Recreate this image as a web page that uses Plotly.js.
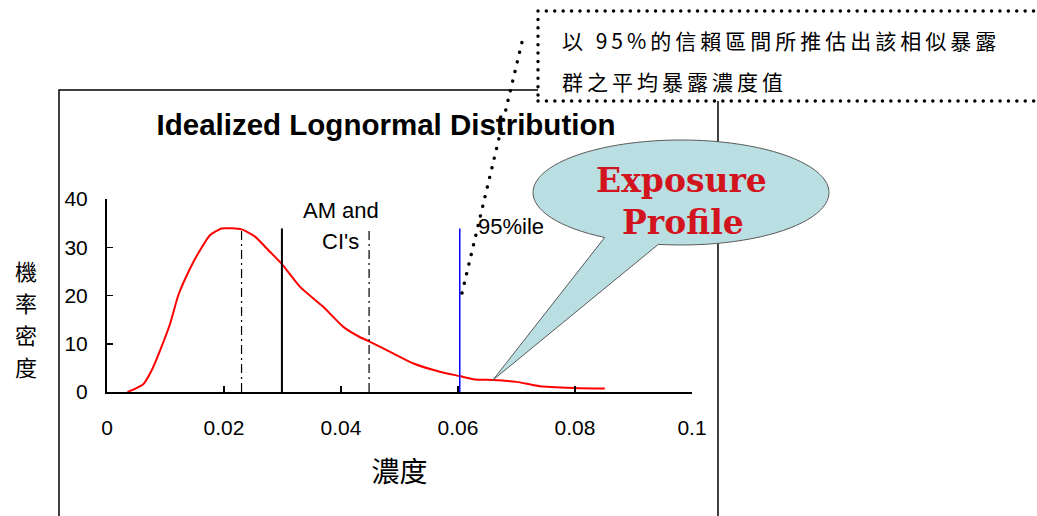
<!DOCTYPE html>
<html><head><meta charset="utf-8">
<script src="https://cdn.plot.ly/plotly-3.0.1.min.js"></script>
<style>
html,body{margin:0;padding:0;background:#fff}
#chart{width:1037px;height:516px}
.shapelayer path{stroke-linecap:round !important}
</style></head><body><div id="chart"></div>
<script>
// ---- data ----
const concentration = [0.0035, 0.0045, 0.0062, 0.0076, 0.0091, 0.0108, 0.0122, 0.0142, 0.0159, 0.0176, 0.0196, 0.0230, 0.0253, 0.0279, 0.0299, 0.0330, 0.0370, 0.0404, 0.0432, 0.0448, 0.0489, 0.0524, 0.0569, 0.0603, 0.0629, 0.0660, 0.0700, 0.0740, 0.0797, 0.0851];
const density       = [0.0,    0.5,    1.6,    4.4,    8.7,    14.2,   20.1,   25.6,   29.4,   32.5,   33.9,   33.7,   32.2,   29.0,   26.5,   21.8,   17.6,   13.5,   11.4,   10.5,   8.0,    5.9,    4.2,    3.3,    2.6,    2.5,    2.1,    1.2,    0.85,   0.7];
const refNames = ['CI lower', 'AM', 'CI upper', '95%ile'];
const refX     = [0.0230, 0.0299, 0.0448, 0.0603];
const refTop   = [33.5, 33.9, 33.5, 33.9];
const xTickVals = [0, 0.02, 0.04, 0.06, 0.08, 0.1];
const xTickText = ['0', '0.02', '0.04', '0.06', '0.08', '0.1'];
const yTickVals = [0, 10, 20, 30, 40];
const yTickText = ['0', '10', '20', '30', '40'];
const chartTitle = 'Idealized Lognormal Distribution';
const xTitle = '濃度';
const yTitle = '機率密度';
const amLabel = ['AM and', "CI's"];
const pctLabel = '95%ile';
const noteLines = ['以 95%的信賴區間所推估出該相似暴露', '群之平均暴露濃度值'];
const bubbleLines = ['Exposure', 'Profile'];

// ---- geometry helpers (pixel -> paper) ----
const W = 1037, H = 516, ML = 107, MR = 345, MT = 199, MB = 124;
const PW = W - ML - MR, PH = H - MT - MB;
const fx = px => (px - ML) / PW;
const fy = py => (H - MB - py) / PH;

// speech bubble outline
function bubblePath() {
  const cx = 681, cy = 192.5, rx = 148, ry = 52.5;
  const tA = Math.atan2((237 - cy) / ry, (605 - cx) / rx);
  let tB = Math.atan2((245 - cy) / ry, (658 - cx) / rx);
  if (tB < tA) tB += 2 * Math.PI;
  const pts = [];
  const n = 90;
  for (let i = 0; i <= n; i++) {
    const t = tA + (tB - tA) * i / n;
    pts.push([cx + rx * Math.cos(t), cy + ry * Math.sin(t)]);
  }
  pts.push([493, 380]);
  return 'M ' + pts.map(p => fx(p[0]).toFixed(5) + ',' + fy(p[1]).toFixed(5)).join(' L ') + ' Z';
}

const traces = [{
  x: concentration, y: density, type: 'scatter', mode: 'lines',
  line: {color: '#ff0000', width: 2, shape: 'spline', smoothing: 0.5}, hoverinfo: 'skip', name: 'density'
}];
const refStyles = [
  {color: '#000', width: 1.2, dash: '9px,4px,2px,4px'},
  {color: '#000', width: 2, dash: 'solid'},
  {color: '#000', width: 1.2, dash: '9px,4px,2px,4px'},
  {color: '#0000ff', width: 1.5, dash: 'solid'}
];
refX.forEach((v, i) => traces.push({
  x: [v, v], y: [0, refTop[i]], type: 'scatter', mode: 'lines',
  line: refStyles[i], hoverinfo: 'skip', name: refNames[i]
}));

const dotted = {color: '#000', width: 3.4};
const shapes = [
  {type: 'rect', xref: 'paper', yref: 'paper', x0: fx(59), x1: fx(718), y0: fy(640), y1: fy(90),
   line: {color: '#000', width: 1.5}, fillcolor: 'rgba(0,0,0,0)'},
  {type: 'rect', xref: 'paper', yref: 'paper', x0: fx(538), x1: fx(1060), y0: fy(101), y1: fy(11),
   line: Object.assign({dash: '0.1px,8.3px'}, dotted), fillcolor: '#ffffff'},
  {type: 'line', xref: 'paper', yref: 'paper', x0: fx(462), y0: fy(293), x1: fx(523), y1: fy(38),
   line: Object.assign({dash: '0.1px,9.8px'}, dotted)},
  {type: 'path', xref: 'paper', yref: 'paper', path: bubblePath(),
   fillcolor: 'rgb(185,223,227)', line: {color: 'rgb(90,90,90)', width: 1}}
];

const cjk = 'Noto Sans CJK TC, Noto Sans CJK SC, sans-serif';
const annotations = [];
yTitle.split('').forEach((ch, i) => annotations.push({
  xref: 'paper', yref: 'paper', x: fx(26), y: fy(270 + 32 * i), text: ch,
  showarrow: false, xanchor: 'center', yanchor: 'middle', font: {family: cjk, size: 22, color: '#000'}
}));
annotations.push(
  {xref: 'x', yref: 'y', x: 0.0400, y: 37.7, text: amLabel[0], showarrow: false, xanchor: 'center', yanchor: 'middle',
   font: {family: 'Liberation Sans, Arial', size: 22, color: '#000'}},
  {xref: 'x', yref: 'y', x: 0.0399, y: 31.1, text: amLabel[1], showarrow: false, xanchor: 'center', yanchor: 'middle',
   font: {family: 'Liberation Sans, Arial', size: 22, color: '#000'}},
  {xref: 'x', yref: 'y', x: 0.0630, y: 34.2, text: pctLabel, showarrow: false, xanchor: 'left', yanchor: 'middle',
   font: {family: 'Liberation Sans, Arial', size: 22, color: '#000'}},
  {xref: 'paper', yref: 'paper', x: fx(681), y: fy(180), text: '<b>' + bubbleLines[0] + '</b>', showarrow: false,
   xanchor: 'center', yanchor: 'middle', font: {family: 'DejaVu Serif, serif', size: 33, color: 'rgb(210,20,30)'}},
  {xref: 'paper', yref: 'paper', x: fx(682.5), y: fy(222), text: '<b>' + bubbleLines[1] + '</b>', showarrow: false,
   xanchor: 'center', yanchor: 'middle', font: {family: 'DejaVu Serif, serif', size: 33, color: 'rgb(210,20,30)'}},
  {xref: 'paper', yref: 'paper', x: fx(560), y: fy(40), text: noteLines[0], showarrow: false, align: 'left',
   xanchor: 'left', yanchor: 'middle', font: {family: cjk, size: 21, color: '#000'}},
  {xref: 'paper', yref: 'paper', x: fx(560), y: fy(81), text: noteLines[1], showarrow: false, align: 'left',
   xanchor: 'left', yanchor: 'middle', font: {family: cjk, size: 21, color: '#000'}}
);

const axisCommon = {
  ticks: 'inside', ticklen: 6, tickwidth: 1.5, tickcolor: '#000',
  showline: true, linewidth: 2, linecolor: '#000', showgrid: false, zeroline: false,
  tickfont: {family: 'Liberation Sans, Arial', size: 21, color: '#000'}, fixedrange: true
};

const layout = {
  width: W, height: H, margin: {l: ML, r: MR, t: MT, b: MB, pad: 0},
  paper_bgcolor: '#fff', plot_bgcolor: '#fff', showlegend: false,
  font: {family: 'Liberation Sans, Arial, sans-serif', color: '#000'},
  title: {text: chartTitle, xref: 'container', yref: 'container', x: 386 / W, xanchor: 'center',
          y: 1 - 125 / H, yanchor: 'middle', font: {family: 'Liberation Sans, Arial', size: 29.5, weight: 'bold', color: '#000'}},
  xaxis: Object.assign({}, axisCommon, {range: [0, 0.1], tickmode: 'array', tickvals: xTickVals, ticktext: xTickText,
          ticklabelstandoff: 16, title: {text: xTitle, standoff: 24, font: {family: cjk, size: 28, color: '#000'}}}),
  yaxis: Object.assign({}, axisCommon, {range: [0, 40], tickmode: 'array', tickvals: yTickVals, ticktext: yTickText,
          ticklabelstandoff: 13}),
  shapes: shapes, annotations: annotations
};

Plotly.newPlot('chart', traces, layout, {staticPlot: true, displayModeBar: false}).then(() => {
  document.querySelectorAll('.annotation-text').forEach(t => {
    if (noteLines.indexOf(t.textContent) >= 0) t.style.letterSpacing = '4px';
  });
});
</script></body></html>
